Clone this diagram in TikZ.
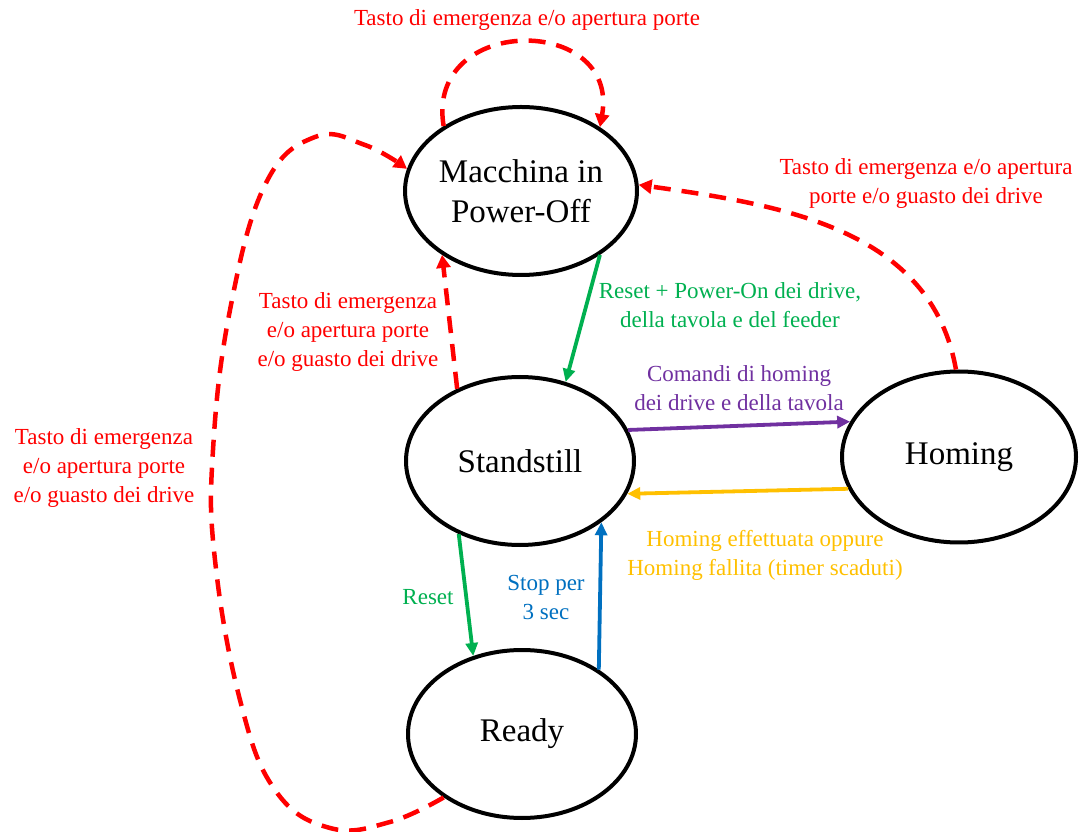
\documentclass[tikz,border=0pt]{standalone}
\usepackage{fontspec}
\setmainfont{Liberation Serif}
\usetikzlibrary{arrows.meta,shapes.geometric}
\definecolor{cred}{HTML}{FF0000}
\definecolor{cgreen}{HTML}{00B050}
\definecolor{cpurple}{HTML}{7030A0}
\definecolor{cyellow}{HTML}{FFC000}
\definecolor{cblue}{HTML}{0070C0}
\begin{document}
\begin{tikzpicture}[x=1pt,y=1pt,
  state/.style={ellipse, draw=black, line width=4pt, minimum width=228pt, minimum height=168pt, inner sep=0pt, font=\fontsize{33}{40}\selectfont, align=center},
  lab/.style={font=\fontsize{23}{29}\selectfont, align=center, inner sep=0pt},
  emer/.style={draw=cred, line width=4.5pt, dash pattern=on 17pt off 11pt, -{Triangle[length=13pt,width=14pt]}},
  solidarr/.style={line width=3.8pt, -{Triangle[length=13pt,width=12pt]}}]
\useasboundingbox (0,0) rectangle (1082,831);
% states
\node[state] (po) at (521,640) {Macchina in\\Power-Off};
\node[state] (ss) at (520,370) {Standstill};
\node[state, minimum width=234pt, minimum height=171pt] (hm) at (959,374) {Homing};
\node[state] (rd) at (522,97) {Ready};
% labels
\node[lab, text=cred] (l1) at (527,811) {Tasto di emergenza e/o apertura porte};
\node[lab, text=cred] (l2) at (926,647) {Tasto di emergenza e/o apertura\\porte e/o guasto dei drive};
\node[lab, text=cred] (l3) at (348,499) {Tasto di emergenza\\e/o apertura porte\\e/o guasto dei drive};
\node[lab, text=cred] (l4) at (104,363) {Tasto di emergenza\\e/o apertura porte\\e/o guasto dei drive};
\node[lab, text=cgreen] (l5) at (730,526) {Reset + Power-On dei drive,\\della tavola e del feeder};
\node[lab, text=cpurple] (l6) at (739,443) {Comandi di homing\\dei drive e della tavola};
\node[lab, text=cyellow] (l7) at (765,276) {Homing effettuata oppure\\Homing fallita (timer scaduti)};
\node[lab, text=cgreen] (l8) at (428,234) {Reset};
\node[lab, text=cblue] (l9) at (546,234) {Stop per\\3 sec};
% red dashed transitions
\draw[emer] (po.140) .. controls (425,817) and (620,817) .. (po.39);
\draw[emer] plot[smooth, tension=0.7] coordinates {(rd.219) (390,9) (330,3) (275,41) (240,131) (215,271) (213,381) (230,521) (265,646) (315,694) (365,686) (po.169)};
\draw[emer] (ss.131) -- (po.219);
\draw[emer] (hm.92) to[out=100, in=-8] (po.3);
% solid transitions
\draw[solidarr, cgreen] (po.-39) -- (ss.60);
\draw[solidarr, cpurple] (ss.16) -- (hm.162);
\draw[solidarr, cyellow] (hm.196) -- (ss.-17);
\draw[solidarr, cgreen] (ss.-130) -- (rd.122);
\draw[solidarr, cblue] (rd.40) -- (ss.-37);
\end{tikzpicture}
\end{document}
